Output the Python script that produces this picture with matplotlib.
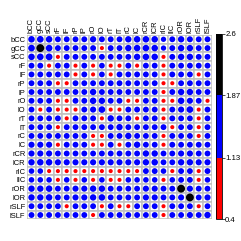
import numpy as np
import matplotlib
matplotlib.use("Agg")
import matplotlib.pyplot as plt
from matplotlib.patches import Circle, Rectangle
from matplotlib.colors import ListedColormap, BoundaryNorm
import matplotlib.colorbar as mcolorbar

plt.rcParams['font.family'] = ['Liberation Sans', 'DejaVu Sans']

labels = ["bCC", "gCC", "sCC", "rF", "lF", "rP", "lP", "rO", "lO", "rT", "lT",
          "rC", "lC", "rCR", "lCR", "rIC", "lIC", "rOR", "lOR", "rSLF", "lSLF"]

values = [
    [1.75,1.8,1.75,1.5,1.5,1.5,1.5,1.65,1.5,1.5,1.5,1.7,1.75,1.75,1.75,1.3,1.5,1.7,1.55,1.5,1.5],
    [1.8,2.3,1.8,1.5,1.5,1.5,1.5,1.5,0.9,1.5,1.5,1.7,1.75,1.75,1.75,1.3,1.5,1.7,1.7,1.5,1.5],
    [1.75,1.8,1.85,0.9,1.5,1.5,1.5,1.5,1.5,1.5,1.5,1.5,1.7,1.75,1.75,0.9,1.5,1.7,1.7,1.5,1.5],
    [1.5,1.5,0.9,1.5,1.5,0.9,1.5,0.9,1.45,0.9,0.9,1.5,0.9,1.5,1.5,0.9,1.5,1.5,1.5,1.5,1.5],
    [1.5,1.5,1.5,1.5,1.5,0.9,1.5,0.9,1.45,0.9,1.5,1.5,1.5,1.5,1.5,0.9,1.5,1.5,1.5,0.9,1.5],
    [1.5,1.5,1.5,0.9,0.9,1.5,1.5,1.5,1.5,1.5,1.5,1.5,1.5,1.5,1.5,0.9,0.9,1.5,1.5,1.5,1.5],
    [1.5,1.5,1.5,1.5,1.5,1.5,1.5,1.7,1.5,1.5,1.5,1.5,1.5,1.5,1.5,0.9,1.5,1.7,1.7,1.5,1.5],
    [1.5,1.5,1.5,0.9,0.9,1.5,1.5,1.75,1.7,1.5,1.5,0.9,0.9,1.5,1.5,0.9,0.9,1.75,1.6,1.5,0.9],
    [1.5,0.9,1.5,0.9,0.9,0.9,1.5,1.6,1.8,0.9,0.9,1.5,1.5,1.5,1.5,0.9,1.5,1.6,1.8,0.9,1.5],
    [1.5,1.5,1.5,1.5,0.9,1.5,1.5,1.5,0.9,1.7,1.5,1.5,0.9,1.5,1.5,0.9,1.5,1.5,1.5,0.9,1.5],
    [1.5,1.5,1.5,0.9,1.5,1.5,1.5,1.5,1.5,1.5,1.7,1.5,1.5,1.5,1.5,1.5,0.9,1.5,1.5,0.9,1.5],
    [1.5,1.5,1.5,1.5,1.5,1.5,1.5,0.9,0.9,1.5,1.5,1.7,1.5,1.5,1.5,0.9,1.5,1.5,1.5,0.9,1.5],
    [1.6,1.6,1.6,0.9,1.5,1.5,1.5,0.9,0.9,1.5,0.9,1.5,1.7,1.5,1.5,0.9,1.5,1.5,1.5,1.5,1.5],
    [1.6,1.6,1.6,1.5,1.5,1.5,1.5,1.5,1.5,1.5,1.5,1.5,1.5,1.7,1.7,1.5,1.5,1.6,1.6,1.5,1.5],
    [1.7,1.75,1.75,1.6,1.6,1.6,1.6,1.6,1.6,1.6,1.6,1.6,1.6,1.7,1.75,1.5,1.5,1.7,1.7,1.6,1.6],
    [1.4,1.4,0.9,0.9,0.9,0.9,0.9,0.9,0.9,0.9,0.9,0.9,0.9,1.5,1.5,1.4,0.9,1.5,1.5,0.9,1.5],
    [1.4,1.4,1.4,0.9,1.4,0.9,1.4,0.9,1.4,0.9,0.9,1.4,1.4,1.4,1.4,0.9,1.4,1.5,1.5,0.9,1.4],
    [1.7,1.7,1.75,1.5,1.5,1.6,1.6,1.7,1.7,1.5,1.5,1.5,1.5,1.6,1.6,1.5,1.5,2.3,1.6,1.5,1.5],
    [1.7,1.7,1.75,1.5,1.5,1.6,1.6,1.7,1.75,1.5,1.5,1.5,1.5,1.6,1.6,1.5,1.5,1.6,2.3,1.5,1.6],
    [1.5,1.5,1.5,1.5,0.9,1.5,1.5,1.5,0.9,1.5,0.9,0.9,1.5,1.5,1.5,0.9,1.5,1.5,1.5,0.9,1.5],
    [1.5,1.5,1.5,1.5,1.5,1.5,1.5,0.9,1.5,1.5,1.5,1.5,1.5,1.5,1.5,0.9,1.5,1.5,1.6,1.5,1.7],
]

bounds = [0.4, 1.13, 1.87, 2.6]
tick_labels = ["0.4", "1.13", "1.87", "2.6"]
colors = ["#FF0000", "#0000FF", "#000000"]

cmap = ListedColormap(colors)
norm = BoundaryNorm(bounds, cmap.N)

W = 241
fig = plt.figure(figsize=(2.41, 2.41), dpi=100)
ax = fig.add_axes([27.1 / W, 1 - 219.4 / W, 184.8 / W, 184.5 / W])

n = len(labels)
M = np.array(values)
for i in range(n):
    for j in range(n):
        ax.add_patch(Rectangle((j - 0.5, i - 0.5), 1, 1, facecolor="white",
                               edgecolor="#C0C0C0", lw=1.1))
for i in range(n):
    for j in range(n):
        v = M[i, j]
        r = 0.49 * (v / bounds[-1]) ** 0.7
        ax.add_patch(Circle((j, i), r, facecolor=cmap(norm(v)), edgecolor="none"))

ax.set_xlim(-0.5, n - 0.5)
ax.set_ylim(n - 0.5, -0.5)
ax.set_xticks(range(n))
ax.set_yticks(range(n))
ax.xaxis.tick_top()
ax.set_xticklabels(labels, rotation=90, fontsize=5.4)
ax.set_yticklabels(labels, fontsize=5.4)
ax.tick_params(length=0, pad=1.2)
for s in ax.spines.values():
    s.set_visible(False)

cax = fig.add_axes([215.7 / W, 1 - 219 / W, 6 / W, 185 / W])
cb = mcolorbar.ColorbarBase(cax, cmap=cmap, norm=norm, boundaries=bounds,
                            ticks=bounds, spacing="proportional")
cb.set_ticklabels(tick_labels)
cax.tick_params(labelsize=5.6, length=2, width=0.5, pad=0.5)
cb.outline.set_linewidth(0.6)

fig.savefig("out.png", dpi=100)
